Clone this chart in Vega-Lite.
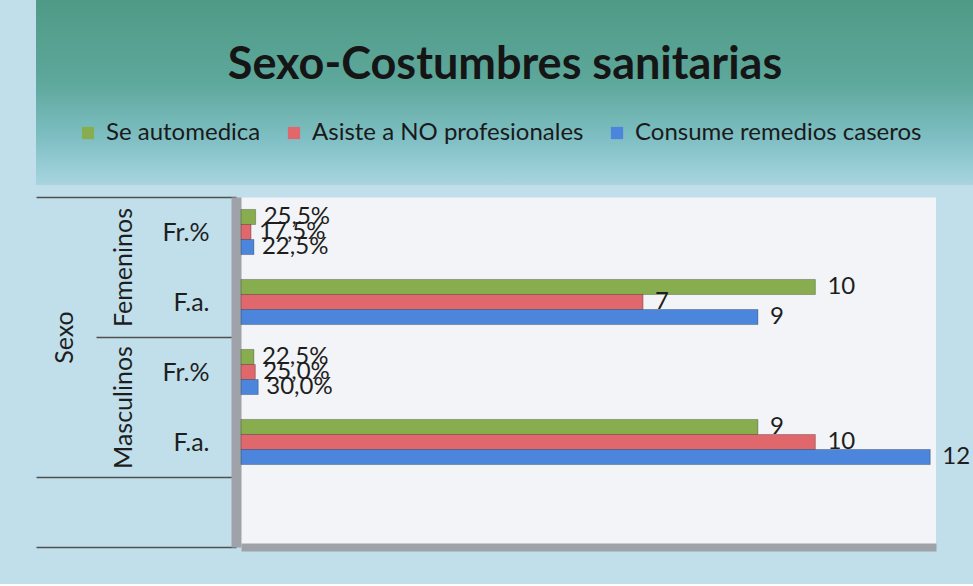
{
  "$schema": "https://vega.github.io/schema/vega-lite/v6.json",
  "padding": {"left": 35, "top": 0, "right": 0, "bottom": 36},
  "background": "#c0dfeb",
  "config": {
    "font": "Lato",
    "locale": {"number": {"decimal": ",", "thousands": ".", "grouping": [3], "currency": ["", " €"]}},
    "view": {"stroke": null},
    "concat": {"spacing": 0}
  },
  "datasets": {
    "d": [
      {"sexo": "Femeninos", "tipo": "Fr.%", "cat": "Femeninos|Fr.%", "serie": "Se automedica", "valor": 0.255},
      {"sexo": "Femeninos", "tipo": "Fr.%", "cat": "Femeninos|Fr.%", "serie": "Asiste a NO profesionales", "valor": 0.175},
      {"sexo": "Femeninos", "tipo": "Fr.%", "cat": "Femeninos|Fr.%", "serie": "Consume remedios caseros", "valor": 0.225},
      {"sexo": "Femeninos", "tipo": "F.a.", "cat": "Femeninos|F.a.", "serie": "Se automedica", "valor": 10},
      {"sexo": "Femeninos", "tipo": "F.a.", "cat": "Femeninos|F.a.", "serie": "Asiste a NO profesionales", "valor": 7},
      {"sexo": "Femeninos", "tipo": "F.a.", "cat": "Femeninos|F.a.", "serie": "Consume remedios caseros", "valor": 9},
      {"sexo": "Masculinos", "tipo": "Fr.%", "cat": "Masculinos|Fr.%", "serie": "Se automedica", "valor": 0.225},
      {"sexo": "Masculinos", "tipo": "Fr.%", "cat": "Masculinos|Fr.%", "serie": "Asiste a NO profesionales", "valor": 0.25},
      {"sexo": "Masculinos", "tipo": "Fr.%", "cat": "Masculinos|Fr.%", "serie": "Consume remedios caseros", "valor": 0.30},
      {"sexo": "Masculinos", "tipo": "F.a.", "cat": "Masculinos|F.a.", "serie": "Se automedica", "valor": 9},
      {"sexo": "Masculinos", "tipo": "F.a.", "cat": "Masculinos|F.a.", "serie": "Asiste a NO profesionales", "valor": 10},
      {"sexo": "Masculinos", "tipo": "F.a.", "cat": "Masculinos|F.a.", "serie": "Consume remedios caseros", "valor": 12}
    ]
  },
  "vconcat": [
    {
      "width": 938,
      "height": 185,
      "view": {
        "stroke": null,
        "fill": {
          "gradient": "linear", "x1": 0, "y1": 0, "x2": 0, "y2": 1,
          "stops": [
            {"offset": 0, "color": "#4f9a86"},
            {"offset": 0.45, "color": "#5ea89c"},
            {"offset": 0.75, "color": "#7fbfc4"},
            {"offset": 1, "color": "#a8d5df"}
          ]
        }
      },
      "layer": [
        {
          "data": {"values": [{"titulo": "Sexo-Costumbres sanitarias"}]},
          "mark": {"type": "text", "fontSize": 45, "fontWeight": "bold", "color": "#151515", "dy": -28},
          "encoding": {"text": {"field": "titulo", "type": "nominal"}}
        },
        {
          "data": {"name": "d"},
          "mark": {"type": "square", "opacity": 0},
          "encoding": {
            "color": {
              "field": "serie", "type": "nominal",
              "scale": {"domain": ["Se automedica", "Asiste a NO profesionales", "Consume remedios caseros"], "range": ["#88ad4f", "#e0676b", "#4b85dc"]},
              "legend": {
                "title": null, "orient": "bottom-left", "offset": 40, "direction": "horizontal",
                "symbolType": "square", "symbolSize": 150, "symbolOpacity": 1, "symbolStrokeWidth": 0,
                "labelFontSize": 24, "labelColor": "#1a1a1a", "labelLimit": 400, "columnPadding": 21, "labelOffset": 6, "padding": 0
              }
            }
          }
        }
      ]
    },
    {
      "width": 900,
      "height": 350,
      "view": {"fill": null, "stroke": null},
      "data": {"name": "d"},
      "layer": [
        {
          "encoding": {
            "y": {
              "field": "cat", "type": "nominal",
              "scale": {"domain": ["Femeninos|Fr.%", "Femeninos|F.a.", "Masculinos|Fr.%", "Masculinos|F.a.", "_"], "paddingInner": 0, "paddingOuter": 0},
              "axis": {
                "title": null, "orient": "left", "offset": -200, "grid": false,
                "domain": true, "domainColor": "#9fa2a8", "domainWidth": 10,
                "tickBand": "extent", "ticks": true, "tickColor": "#505050", "tickWidth": 1.5,
                "tickSize": {"condition": [{"test": "datum.value == 'Femeninos|F.a.'", "value": 140}, {"test": "datum.value == 'Femeninos|Fr.%' || datum.value == 'Masculinos|Fr.%'", "value": 0}], "value": 200},
                "labelPadding": {"condition": [{"test": "datum.value == 'Femeninos|Fr.%' || datum.value == 'Masculinos|Fr.%'", "value": 27}, {"test": "datum.value == 'Femeninos|F.a.'", "value": -113}], "value": -173},
                "labelExpr": "(datum.value == 'Femeninos|Fr.%' || datum.value == 'Masculinos|Fr.%') ? 'Fr.%' : (datum.value == 'Femeninos|F.a.' || datum.value == 'Masculinos|F.a.') ? 'F.a.' : ''",
                "labelFontSize": 25, "labelColor": "#1e1e1e", "labelAlign": "right", "labelBaseline": "middle"
              }
            },
            "x": {
              "field": "valor", "type": "quantitative",
              "scale": {"domain": [-3.569, 12.1], "nice": false, "zero": false},
              "axis": {
                "title": null, "labels": false, "ticks": false,
                "values": [6.05], "grid": true, "gridColor": "#f2f4f7", "gridWidth": 695, "gridOpacity": 1,
                "domainColor": "#9fa2a8", "domainWidth": 8, "domainDash": [0, 205, 695, 0]
              }
            },
            "yOffset": {
              "field": "serie", "type": "nominal",
              "scale": {"domain": ["Se automedica", "Asiste a NO profesionales", "Consume remedios caseros"], "paddingInner": 0, "paddingOuter": 0.83}
            }
          },
          "layer": [
            {
              "mark": {"type": "bar", "stroke": "#00000040", "strokeWidth": 1},
              "encoding": {
                "x2": {"datum": 0},
                "color": {
                  "field": "serie", "type": "nominal",
                  "scale": {"domain": ["Se automedica", "Asiste a NO profesionales", "Consume remedios caseros"], "range": ["#88ad4f", "#e0676b", "#4b85dc"]},
                  "legend": null
                }
              }
            },
            {
              "transform": [{"filter": "datum.tipo == 'Fr.%'"}],
              "mark": {"type": "text", "align": "left", "baseline": "middle", "dx": 8, "fontSize": 24, "color": "#1e1e1e"},
              "encoding": {"text": {"field": "valor", "type": "quantitative", "format": ".1%"}}
            },
            {
              "transform": [{"filter": "datum.tipo == 'F.a.'"}],
              "mark": {"type": "text", "align": "left", "baseline": "middle", "dx": 12, "fontSize": 24, "color": "#1e1e1e"},
              "encoding": {"text": {"field": "valor", "type": "quantitative", "format": "d"}}
            }
          ]
        },
        {
          "mark": {"type": "point", "opacity": 0},
          "encoding": {
            "y": {
              "field": "cat", "type": "nominal",
              "scale": {"domain": ["Femeninos|Fr.%", "Femeninos|F.a.", "Masculinos|Fr.%", "Masculinos|F.a.", "_"], "paddingInner": 0, "paddingOuter": 0},
              "axis": {
                "orient": "left", "offset": -205, "title": null, "domain": false, "ticks": false, "grid": false,
                "labelOffset": -35,
                "labelExpr": "datum.value == 'Femeninos|F.a.' ? 'Femeninos' : datum.value == 'Masculinos|F.a.' ? 'Masculinos' : datum.value == 'Masculinos|Fr.%' ? 'Sexo' : ''",
                "labelAngle": 270, "labelAlign": "center", "labelBaseline": "bottom",
                "labelPadding": {"condition": {"test": "datum.value == 'Masculinos|Fr.%'", "value": 164}, "value": 105},
                "labelFontSize": 25, "labelColor": "#1e1e1e"
              }
            }
          }
        }
      ],
      "resolve": {"scale": {"y": "independent"}}
    }
  ],
  "resolve": {"scale": {"color": "independent"}, "legend": {"color": "independent"}}
}
